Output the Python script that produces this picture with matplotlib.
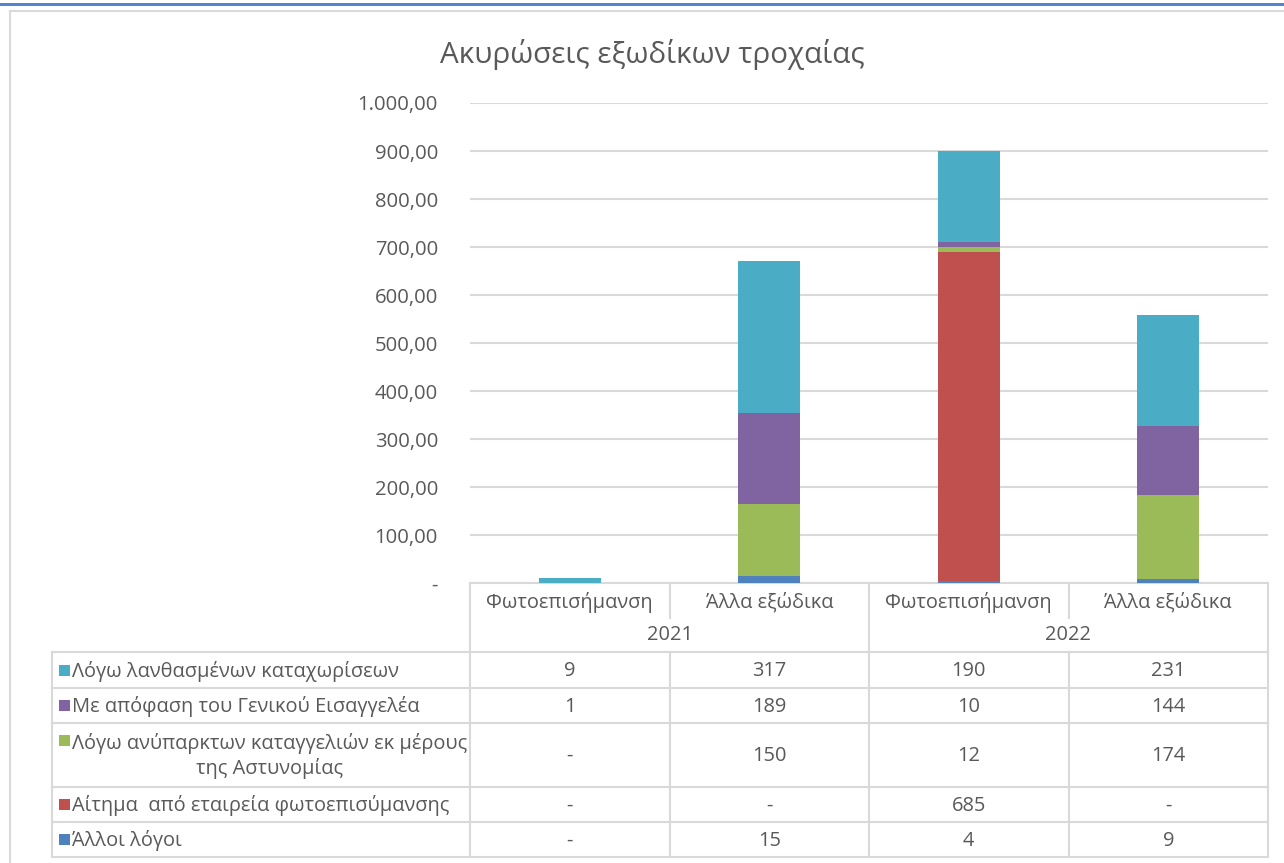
import matplotlib
matplotlib.use("Agg")
import matplotlib.pyplot as plt
from matplotlib.patches import Rectangle

plt.rcParams['font.family'] = ['Open Sans', 'DejaVu Sans']

# ---------------- data ----------------
title = "Ακυρώσεις εξωδίκων τροχαίας"
categories = ["Φωτοεπισήμανση", "Άλλα εξώδικα", "Φωτοεπισήμανση", "Άλλα εξώδικα"]
years = ["2021", "2022"]
cats_per_year = 2

# series listed as in the table (top to bottom); stacked bottom-up in reverse order
series_names = [
    "Λόγω λανθασμένων καταχωρίσεων",
    "Με απόφαση του Γενικού Εισαγγελέα",
    "Λόγω ανύπαρκτων καταγγελιών εκ μέρους\nτης Αστυνομίας",
    "Αίτημα  από εταιρεία φωτοεπισύμανσης",
    "Άλλοι λόγοι",
]
lathasmenes = [9, 317, 190, 231]
apofasi = [1, 189, 10, 144]
anyparktes = [0, 150, 12, 174]
aitima = [0, 0, 685, 0]
alloi = [0, 15, 4, 9]
series_values = [lathasmenes, apofasi, anyparktes, aitima, alloi]
series_colors = ["#4BACC6", "#8064A2", "#9BBB59", "#C0504D", "#4F81BD"]

yticks = [0, 100, 200, 300, 400, 500, 600, 700, 800, 900, 1000]

# ---------------- figure ----------------
W, H = 1284, 863
fig = plt.figure(figsize=(W / 100, H / 100), dpi=100)
fig.patch.set_facecolor("white")

# pixel-space overlay axes for frame and data table
ov = fig.add_axes([0, 0, 1, 1], zorder=0)
ov.set_xlim(0, W)
ov.set_ylim(H, 0)
ov.axis("off")

txt_col = "#595959"
line_col = "#D9D9D9"

# decorative frame
ov.add_patch(Rectangle((0, 3), W, 3.5, color="#4F86D2", lw=0))
ov.plot([10, W], [11, 11], color="#DADADA", lw=1.5)
ov.plot([10, 10], [11, H], color="#DADADA", lw=1.5)

# plot area in pixels
px_l, px_r, px_top, px_bot = 470, 1268, 103, 583
ax = fig.add_axes([px_l / W, 1 - px_bot / H, (px_r - px_l) / W, (px_bot - px_top) / H], zorder=2)
ax.patch.set_alpha(0)

n = len(categories)
x = list(range(n))
bottom = [0] * n
for name, vals, col in reversed(list(zip(series_names, series_values, series_colors))):
    ax.bar(x, vals, width=0.31, bottom=bottom, color=col, zorder=3)
    bottom = [b + v for b, v in zip(bottom, vals)]

ax.set_xlim(-0.5, n - 0.5)
ax.set_ylim(0, 1000)
ax.set_yticks(yticks)


def fmt(v):
    if v == 0:
        return "-"
    s = f"{v:,.2f}"
    return s.replace(",", "X").replace(".", ",").replace("X", ".")


ax.set_yticklabels([fmt(v) for v in yticks])
ax.tick_params(axis="y", length=0, pad=23, labelsize=14.6, labelcolor=txt_col)
ax.tick_params(axis="x", length=0, labelbottom=False)
for s in ax.spines.values():
    s.set_visible(False)
ax.grid(axis="y", color=line_col, lw=1.5, zorder=0)
ax.set_axisbelow(True)

fig.text(0.5 * (440 + 865) / W, 1 - 55 / H, title, ha="center", va="center",
         fontsize=21.3, color="#595959")

# ---------------- data table ----------------
col_w = (px_r - px_l) / n
col_c = [px_l + (i + 0.5) * col_w for i in range(n)]
tbl_left = 52
hdr_mid = 618
yr_bot = 652
row_edges = [652, 688, 723, 787, 822, 857]
lw_t = 1.5
fs_t = 14.4

# header borders
ov.plot([px_l, px_r], [px_bot, px_bot], color=line_col, lw=lw_t)
for k in range(len(years) + 1):
    xx = px_l + k * cats_per_year * col_w
    ov.plot([xx, xx], [px_bot, row_edges[-1]], color=line_col, lw=lw_t)
for k in range(len(years)):
    for j in range(1, cats_per_year):
        xx = px_l + (k * cats_per_year + j) * col_w
        ov.plot([xx, xx], [px_bot, hdr_mid], color=line_col, lw=lw_t)
        ov.plot([xx, xx], [yr_bot, row_edges[-1]], color=line_col, lw=lw_t)
for yy in row_edges:
    ov.plot([tbl_left, px_r], [yy, yy], color=line_col, lw=lw_t)
ov.plot([tbl_left, tbl_left], [row_edges[0], row_edges[-1]], color=line_col, lw=lw_t)

for c, lab in zip(col_c, categories):
    ov.text(c, 602, lab, ha="center", va="center", fontsize=fs_t, color=txt_col)
for k, yr in enumerate(years):
    c = px_l + (k + 0.5) * cats_per_year * col_w
    ov.text(c, 635, yr, ha="center", va="center", fontsize=fs_t, color=txt_col)

for r, (name, vals, col) in enumerate(zip(series_names, series_values, series_colors)):
    y0, y1 = row_edges[r], row_edges[r + 1]
    ym = 0.5 * (y0 + y1)
    nlines = name.count("\n") + 1
    ysq = ym if nlines == 1 else y0 + 17
    ov.add_patch(Rectangle((59, ysq - 5.5), 11, 11, color=col, lw=0))
    ov.text(72, ym + 1, name, ha="left", va="center", fontsize=fs_t, color=txt_col,
            multialignment="center", linespacing=1.3)
    for c, v in zip(col_c, vals):
        ov.text(c, ym + 1, "-" if v == 0 else str(v), ha="center", va="center",
                fontsize=fs_t, color=txt_col)

fig.savefig("out.png", dpi=100, facecolor="white")
